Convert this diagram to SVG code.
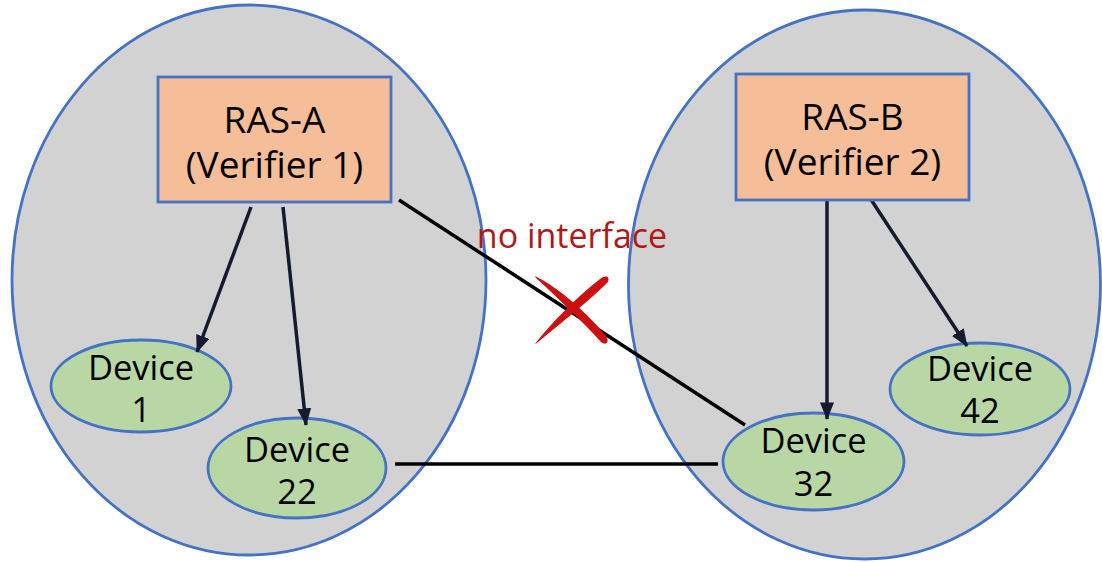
<svg xmlns="http://www.w3.org/2000/svg" width="1102" height="562" viewBox="0 0 1102 562">
  <style>
    .domain { fill: #d2d2d2; stroke: #4472c4; stroke-width: 2.8; }
    .ras { fill: #f5bd98; stroke: #4472c4; stroke-width: 2.8; }
    .dev { fill: #b9d7a5; stroke: #4472c4; stroke-width: 2.8; }
    .lbl { font-family: "Open Sans", "Noto Sans", sans-serif; fill: #000; text-anchor: middle; }
    .ras-t { font-size: 37px; }
    .dev-t { font-size: 34.5px; }
    .arrow { stroke: #151a2e; stroke-width: 3.5; fill: none; marker-end: url(#head); }
    .link { stroke: #000; stroke-width: 3.5; fill: none; }
    .note { font-family: "Open Sans", "Noto Sans", sans-serif; font-size: 34px; fill: #b01818; text-anchor: middle; }
  </style>
  <defs>
    <marker id="head" viewBox="0 0 10 8" refX="9.5" refY="4" markerWidth="5" markerHeight="4" orient="auto" markerUnits="strokeWidth">
      <path d="M0,0 L10,4 L0,8 Z" fill="#151a2e"/>
    </marker>
  </defs>

  <rect width="1102" height="562" fill="#ffffff"/>

  <!-- attestation domains -->
  <g id="domain-a"><ellipse class="domain" cx="249" cy="280" rx="237" ry="275"/></g>
  <g id="domain-b"><ellipse class="domain" cx="864.5" cy="284.5" rx="236" ry="274.5"/></g>

  <!-- devices -->
  <g id="device-1">
    <ellipse class="dev" cx="141" cy="386" rx="90" ry="46"/>
    <text class="lbl dev-t" x="141" y="380">Device</text>
    <text class="lbl dev-t" x="141" y="422">1</text>
  </g>
  <g id="device-22">
    <ellipse class="dev" cx="297" cy="468" rx="89" ry="50"/>
    <text class="lbl dev-t" x="297" y="462">Device</text>
    <text class="lbl dev-t" x="297" y="504">22</text>
  </g>
  <g id="device-32">
    <ellipse class="dev" cx="813.5" cy="461.5" rx="90.5" ry="48.5"/>
    <text class="lbl dev-t" x="813.5" y="453">Device</text>
    <text class="lbl dev-t" x="813.5" y="496">32</text>
  </g>
  <g id="device-42">
    <ellipse class="dev" cx="980" cy="389" rx="90" ry="46"/>
    <text class="lbl dev-t" x="980" y="381">Device</text>
    <text class="lbl dev-t" x="980" y="423">42</text>
  </g>

  <!-- connectors -->
  <g id="connectors">
    <line class="arrow" x1="251" y1="207" x2="197" y2="352"/>
    <line class="arrow" x1="283" y1="207" x2="306" y2="425"/>
    <line class="arrow" x1="827" y1="197" x2="827" y2="419"/>
    <line class="arrow" x1="870" y1="198" x2="967" y2="346"/>
    <line class="link" x1="399" y1="200" x2="745" y2="425"/>
    <line class="link" x1="395" y1="464" x2="718" y2="464"/>
  </g>

  <!-- verifiers -->
  <g id="ras-a">
    <rect class="ras" x="158" y="77" width="233" height="125"/>
    <text class="lbl ras-t" x="274.5" y="133">RAS-A</text>
    <text class="lbl ras-t" x="274.5" y="178">(Verifier 1)</text>
  </g>
  <g id="ras-b">
    <rect class="ras" x="736" y="74" width="233" height="126"/>
    <text class="lbl ras-t" x="852.5" y="130">RAS-B</text>
    <text class="lbl ras-t" x="852.5" y="175">(Verifier 2)</text>
  </g>

  <!-- missing interface marker -->
  <g id="no-interface">
    <text class="note" x="572" y="248">no interface</text>
    <path d="M535,344 C552,322 578,296 600,279 C606,275 610,276 608,282 C590,300 562,322 537,343 Z" fill="#cc1010"/>
    <path d="M535,276 C560,288 590,316 606,336 C610,342 606,346 601,342 C585,324 560,300 536,278 Z" fill="#cc1010"/>
  </g>
</svg>
